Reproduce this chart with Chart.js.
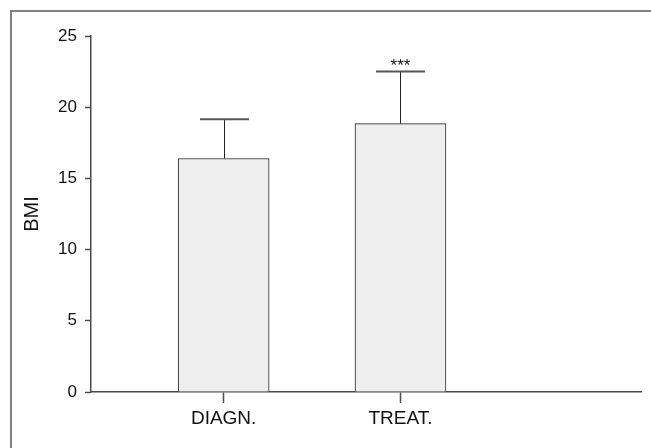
<!DOCTYPE html>
<html>
<head>
<meta charset="utf-8">
<script src="https://cdn.jsdelivr.net/npm/chart.js@4/dist/chart.umd.min.js"></script>
<style>
  html, body { margin: 0; padding: 0; background: #fff; }
  #wrap { width: 651px; height: 448px; position: relative; }
</style>
</head>
<body>
<div id="wrap"><canvas id="bmiChart"></canvas></div>
<script>
// data
const categories = ["DIAGN.", "TREAT."];
const positions = [1, 2];
const bmiMean = [16.4, 18.85];
const bmiUpper = [19.15, 22.5];
const stars = ["", "***"];
const yTicks = [0, 5, 10, 15, 20, 25];

const FONT = "'Liberation Sans', Arial, sans-serif";
const AXIS = "#4a4a4a";

// frame round the figure (only top + left are inside the picture)
const framePlugin = {
  id: "frame",
  beforeDraw(chart) {
    const { ctx } = chart;
    ctx.save();
    ctx.strokeStyle = "#808080";
    ctx.lineWidth = 2;
    ctx.beginPath();
    ctx.moveTo(11, chart.height);
    ctx.lineTo(11, 11);
    ctx.lineTo(chart.width, 11);
    ctx.stroke();
    ctx.restore();
  }
};

// one-sided error bars + significance stars
const errorPlugin = {
  id: "errorBars",
  afterDatasetsDraw(chart) {
    const { ctx, scales: { x, y } } = chart;
    ctx.save();
    positions.forEach((p, i) => {
      const px = Math.round(x.getPixelForValue(p)) + 0.5;
      const top = y.getPixelForValue(bmiMean[i]);
      const up = y.getPixelForValue(bmiUpper[i]);
      ctx.strokeStyle = "#222";
      ctx.lineWidth = 1;
      ctx.beginPath();
      ctx.moveTo(px, top);
      ctx.lineTo(px, up);
      ctx.stroke();
      ctx.strokeStyle = "#555";
      ctx.lineWidth = 2;
      ctx.beginPath();
      ctx.moveTo(px - 24.5, up);
      ctx.lineTo(px + 24.5, up);
      ctx.stroke();
      if (stars[i]) {
        ctx.fillStyle = "#111";
        ctx.font = "17px " + FONT;
        ctx.textAlign = "center";
        ctx.textBaseline = "alphabetic";
        ctx.fillText(stars[i], px, up - 1);
      }
    });
    ctx.restore();
  }
};

const ctx = document.getElementById("bmiChart").getContext("2d");

new Chart(ctx, {
  type: "bar",
  data: {
    datasets: [{
      label: "BMI",
      data: positions.map((p, i) => ({ x: p, y: bmiMean[i] })),
      backgroundColor: "#eeeeee",
      borderColor: "#222",
      borderWidth: 1,
      barThickness: 91
    }]
  },
  options: {
    responsive: true,
    maintainAspectRatio: false,
    animation: false,
    layout: { padding: { left: 12, top: 36, right: 10, bottom: 10 } },
    plugins: {
      legend: { display: false },
      tooltip: { enabled: false }
    },
    scales: {
      x: {
        type: "linear",
        min: 0.25,
        max: 3.36,
        offset: false,
        afterBuildTicks(scale) {
          scale.ticks = positions.map(v => ({ value: v }));
        },
        grid: {
          offset: false,
          drawOnChartArea: false,
          drawTicks: true,
          tickLength: 11,
          tickColor: AXIS,
          tickWidth: 1.5
        },
        border: { display: true, color: AXIS, width: 1.5 },
        ticks: {
          autoSkip: false,
          maxRotation: 0,
          padding: 4,
          color: "#111",
          font: { family: FONT, size: 19 },
          callback: (v) => categories[positions.indexOf(v)] ?? ""
        },
        afterFit(scale) { scale.height = 46; }
      },
      y: {
        min: 0,
        max: 25,
        afterBuildTicks(scale) {
          scale.ticks = yTicks.map(v => ({ value: v }));
        },
        grid: {
          drawOnChartArea: false,
          drawTicks: true,
          tickLength: 6,
          tickColor: AXIS,
          tickWidth: 1.5
        },
        border: { display: true, color: AXIS, width: 1.5 },
        ticks: {
          padding: 8,
          color: "#111",
          font: { family: FONT, size: 17 }
        },
        title: {
          display: true,
          text: "BMI",
          color: "#111",
          font: { family: FONT, size: 20 },
          padding: { top: 8, bottom: 0 }
        },
        afterFit(scale) { scale.width = 79; }
      }
    }
  },
  plugins: [framePlugin, errorPlugin]
});
</script>
</body>
</html>
